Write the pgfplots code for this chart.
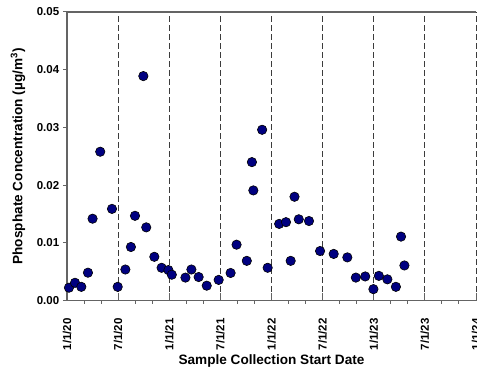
\documentclass[border=0pt]{standalone}
\usepackage{pgfplots}
\pgfplotsset{compat=1.18}
\usepackage{fontspec}
\setmainfont{Liberation Sans}
\definecolor{axgray}{RGB}{100,100,100}
\definecolor{gridgray}{RGB}{60,60,60}
\definecolor{ptnavy}{RGB}{0,0,128}
\begin{document}
\begin{tikzpicture}
\begin{axis}[
  name=ax,
  scale only axis,
  width=409pt, height=288.7pt,
  xmin=0, xmax=48, ymin=0, ymax=0.05,
  axis x line*=box, axis y line*=left,
  axis line style={axgray, line width=1.3pt},
  xtick={0,6,...,48},
  xticklabels={1/1/20,7/1/20,1/1/21,7/1/21,1/1/22,7/1/22,1/1/23,7/1/23,1/1/24},
  minor x tick num=2,
  xtick pos=bottom,
  ytick={0,0.01,...,0.05},
  scaled y ticks=false,
  ytick pos=left,
  xtick align=inside, ytick align=outside,
  xtick style={/pgfplots/major tick length=8pt, /pgfplots/minor tick length=3pt, axgray, line width=1pt},
  ytick style={/pgfplots/major tick length=4pt, axgray, line width=1pt},
  minor x tick style={yshift=-3pt},
  xmajorgrids,
  major x grid style={gridgray, line width=0.9pt, dash pattern=on 6pt off 3pt},
  yticklabel style={/pgf/number format/fixed, /pgf/number format/fixed zerofill, /pgf/number format/precision=2, /pgf/number format/assume math mode=true, font=\fontsize{11.5}{13}\selectfont\bfseries},
  xticklabel style={rotate=90, anchor=east, xshift=-14pt, font=\fontsize{11.5}{13}\selectfont\bfseries},
  xlabel={Sample Collection Start Date},
  ylabel={Phosphate Concentration (µg/m\textsuperscript{3})},
  xlabel style={at={(axis description cs:0.5,0)}, anchor=base, yshift=-64.3pt, font=\fontsize{13.6}{15}\selectfont\bfseries},
  ylabel style={at={(axis description cs:0,0.5)}, anchor=center, yshift=49pt, font=\fontsize{13.6}{15}\selectfont\bfseries},
  clip=false,
]
\addplot[only marks, mark=*, mark size=4.7pt, mark options={fill=ptnavy, draw=black, line width=0.6pt}] table {
x y
0.23 0.00225
0.94 0.0031
1.68 0.0024
2.46 0.00485
3.0 0.0142
3.9 0.0258
5.28 0.0159
5.95 0.0024
6.85 0.0054
7.5 0.0093
7.98 0.0147
8.96 0.0389
9.3 0.0127
10.25 0.0076
11.1 0.0057
11.9 0.0053
12.3 0.0045
13.9 0.0040
14.6 0.0054
15.45 0.0041
16.4 0.0026
17.8 0.0036
19.2 0.0048
19.9 0.0097
21.1 0.0069
21.7 0.0240
21.87 0.0191
22.9 0.0296
23.55 0.0057
24.9 0.0133
25.7 0.0136
26.25 0.0069
26.7 0.0180
27.2 0.0141
28.4 0.0138
29.7 0.0086
31.3 0.0081
32.9 0.0075
33.9 0.0040
35.0 0.0042
35.96 0.0020
36.6 0.0043
37.6 0.0037
38.6 0.0024
39.2 0.0111
39.6 0.0061
};
\end{axis}
\pgfresetboundingbox
\path ([shift={(-67pt,-69.3pt)}]ax.south west) rectangle ([shift={(1pt,12pt)}]ax.north east);
\end{tikzpicture}
\end{document}
